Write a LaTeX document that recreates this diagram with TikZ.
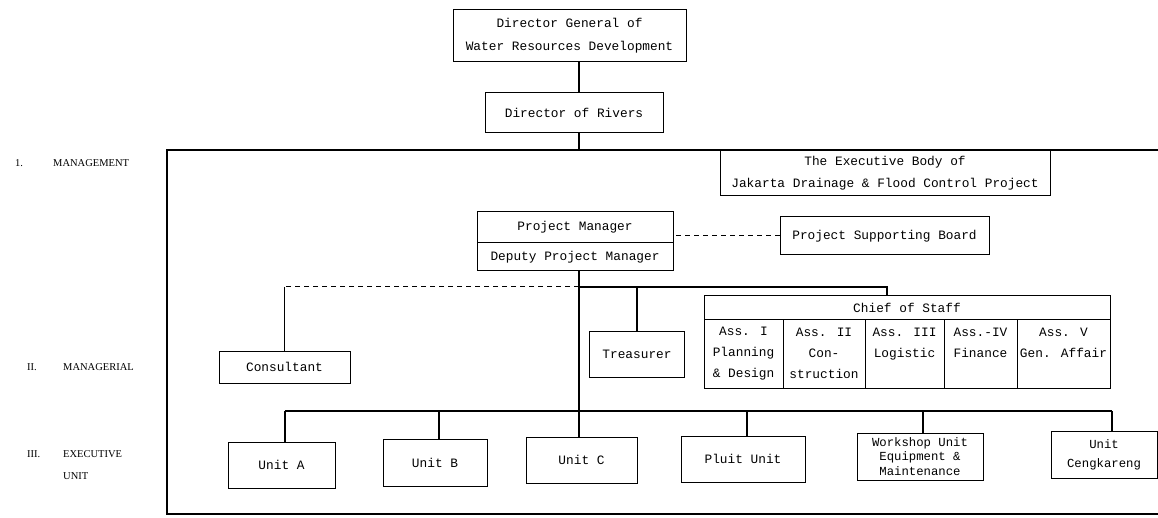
\documentclass[tikz,border=0pt]{standalone}
\usepackage{fontspec}
\setmainfont{Liberation Serif}
\newfontfamily\boxfont{Liberation Mono}
\begin{document}
\begin{tikzpicture}[x=1pt,y=-1pt,
  box/.style={draw, line width=1pt, inner sep=0pt, align=center,
    font=\boxfont\fontsize{12.8}{21}\selectfont},
  conn/.style={line width=1.1pt},
  dashconn/.style={line width=1pt, dash pattern=on 5pt off 4pt},
  lab/.style={anchor=west, inner sep=0pt, font=\fontsize{10.5}{13}\selectfont}]
\useasboundingbox[fill=white] (0,0) rectangle (1158,518);

% frame
\draw[conn] (1158,150) -- (167,150) -- (167,514) -- (1158,514);

% left labels
\node[lab] (l1n) at (15,163) {1.};
\node[lab] (l1) at (53,163) {MANAGEMENT};
\node[lab] (l2n) at (27,367) {II.};
\node[lab] (l2) at (63,367) {MANAGERIAL};
\node[lab] (l3n) at (27,454) {III.};
\node[lab] (l3) at (63,454) {EXECUTIVE};
\node[lab] (l3b) at (63,476) {UNIT};

% top boxes
\node[box, minimum width=233pt, minimum height=52pt, font=\boxfont\fontsize{12.8}{23}\selectfont] (dg) at (569.5,36)
  {Director General of\\Water Resources Development};
\node[box, minimum width=178pt, minimum height=40pt] (rivers) at (574,113) {Director of Rivers};
\node[box, minimum width=330pt, minimum height=46pt, font=\boxfont\fontsize{12.8}{22}\selectfont] (exec) at (885,173)
  {The Executive Body of\\Jakarta Drainage \& Flood Control Project};

\coordinate (spine) at (579,0);
\coordinate (ft) at (579,150);
\draw[conn] (dg.south -| spine) -- (rivers.north -| spine);
\draw[conn] (rivers.south -| spine) -- (ft);

% project manager
\node[box, minimum width=196pt, minimum height=31pt] (pm) at (575,227.5) {Project Manager};
\node[box, minimum width=196pt, minimum height=28pt] (dpm) at (575,257) {Deputy Project Manager};
\node[box, minimum width=209pt, minimum height=38pt] (psb) at (884.5,236) {Project Supporting Board};
\draw[dashconn] (psb.west) -- (psb.west -| dpm.east);

% managerial level
\node[box, minimum width=131pt, minimum height=32pt] (cons) at (284.5,367) {Consultant};
\node[box, minimum width=95pt, minimum height=46pt] (treas) at (637,354) {Treasurer};

\node[box, minimum width=406pt, minimum height=23pt] (cos) at (907,307.5) {Chief of Staff};
\node[box, minimum width=79pt, minimum height=69pt] (a1) at (743.5,353.5) {Ass. I\\Planning\\\& Design};
\node[box, minimum width=82pt, minimum height=69pt] (a2) at (824,353.5) {Ass. II\\Con-\\struction};
\node[box, minimum width=79pt, minimum height=69pt] (a3) at (904.5,353.5) {Ass. III\\Logistic\\\mbox{}};
\node[box, minimum width=73pt, minimum height=69pt] (a4) at (980.5,353.5) {Ass.-IV\\Finance\\\mbox{}};
\node[box, minimum width=93pt, minimum height=69pt] (a5) at (1063.5,353.5) {Ass. V\\Gen. Affair\\\mbox{}};

\coordinate (jb) at (579,287);
\coordinate (jt) at (637,287);
\coordinate (jc) at (887,287);
\coordinate (jl) at (284.5,287);
\draw[conn] (jb) -- (jc) -- (jc |- cos.north);
\draw[conn] (jt) -- (treas.north);
\draw[dashconn] (jb) -- (jl);
\draw[conn] (jl) -- (cons.north);

% executive units
\node[box, minimum width=107pt, minimum height=46pt] (ua) at (281.5,465) {Unit A};
\node[box, minimum width=104pt, minimum height=47pt] (ub) at (435,462.5) {Unit B};
\node[box, minimum width=111pt, minimum height=46pt] (uc) at (581.5,460) {Unit C};
\node[box, minimum width=124pt, minimum height=46pt] (up) at (743,459) {Pluit Unit};
\node[box, minimum width=126pt, minimum height=47pt, font=\boxfont\fontsize{12.3}{14.5}\selectfont] (uw) at (920,456.5)
  {Workshop Unit\\Equipment \&\\Maintenance};
\node[box, minimum width=106pt, minimum height=47pt, font=\boxfont\fontsize{12.3}{19}\selectfont] (uk) at (1104,454.5)
  {Unit\\Cengkareng};

\draw[conn] (dpm.south -| spine) -- (uc.north -| spine);

\coordinate (ba) at (285,411);
\coordinate (bb) at (439,411);
\coordinate (bp) at (747,411);
\coordinate (bw) at (923,411);
\coordinate (bk) at (1112,411);
\draw[conn] (ba) -- (bk);
\draw[conn] (ba) -- (ba |- ua.north);
\draw[conn] (bb) -- (bb |- ub.north);
\draw[conn] (bp) -- (bp |- up.north);
\draw[conn] (bw) -- (bw |- uw.north);
\draw[conn] (bk) -- (bk |- uk.north);
\end{tikzpicture}
\end{document}
